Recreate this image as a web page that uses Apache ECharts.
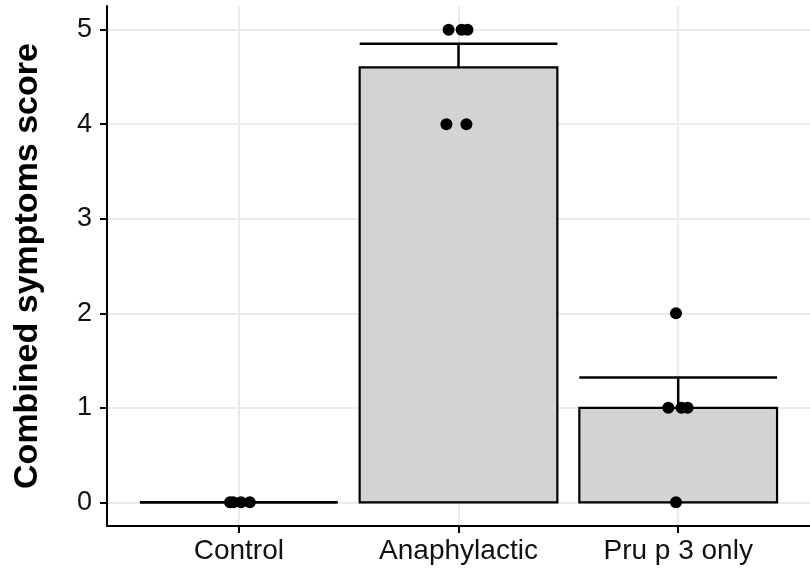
<!DOCTYPE html>
<html>
<head>
<meta charset="utf-8">
<script src="https://cdn.jsdelivr.net/npm/echarts@6/dist/echarts.min.js"></script>
<style>
html,body{margin:0;padding:0;background:#fff;}
#chart{width:810px;height:569px;}
</style>
</head>
<body>
<div id="chart"></div>
<script>
// ---- data ----
var categories = ['Control', 'Anaphylactic', 'Pru p 3 only'];
var categoryPos = [1, 2, 3];
var means = [0, 4.6, 1.0];
var errUpper = [0, 4.85, 1.32];
// individual points: [category position + jitter, score]
var pointsControl = [[0.96, 0], [0.975, 0], [1.01, 0], [1.05, 0]];
var pointsAnaphylactic = [[1.955, 5], [2.014, 5], [2.041, 5], [1.945, 4], [2.036, 4]];
var pointsPru = [[2.99, 2], [2.955, 1], [3.015, 1], [3.043, 1], [2.99, 0]];
var yTicks = [0, 1, 2, 3, 4, 5];
var yTitle = 'Combined symptoms score';

var barHalf = 0.45;
var barData = categoryPos.map(function (p, i) { return [p, means[i]]; });
var errData = categoryPos.map(function (p, i) { return [p, means[i], errUpper[i]]; });
var allPoints = pointsControl.concat(pointsAnaphylactic, pointsPru);

var chart = echarts.init(document.getElementById('chart'));
var FONT = 'Liberation Sans, Arial, sans-serif';
chart.setOption({
  animation: false,
  backgroundColor: '#ffffff',
  grid: { left: 107, right: 0, top: 6, bottom: 43, containLabel: false },
  xAxis: {
    type: 'value', min: 0.4, max: 3.6,
    axisLine: { show: true, onZero: false, lineStyle: { color: '#000', width: 2 } },
    axisTick: { show: true, customValues: categoryPos, length: 7, lineStyle: { color: '#000', width: 2 } },
    axisLabel: {
      customValues: categoryPos, color: '#111', fontFamily: FONT, fontSize: 28, margin: 11,
      formatter: function (v) { return categories[Math.round(v) - 1]; }
    },
    splitLine: { show: true, lineStyle: { color: '#ebebeb', width: 2 } }
  },
  yAxis: {
    type: 'value', min: -0.25, max: 5.25,
    name: yTitle, nameLocation: 'middle', nameRotate: 90, nameGap: 62,
    nameTextStyle: { fontFamily: FONT, fontSize: 34, fontWeight: 'bold', color: '#000' },
    axisLine: { show: true, onZero: false, lineStyle: { color: '#000', width: 2 } },
    axisTick: { show: true, customValues: yTicks, length: 7, lineStyle: { color: '#000', width: 2 } },
    axisLabel: { customValues: yTicks, color: '#111', fontFamily: FONT, fontSize: 27, margin: 15 },
    splitLine: { show: true, lineStyle: { color: '#ebebeb', width: 2 } }
  },
  series: [
    {
      type: 'custom', z: 2,
      data: barData,
      renderItem: function (params, api) {
        var x = api.value(0), y = api.value(1);
        var p0 = api.coord([x - barHalf, 0]);
        var p1 = api.coord([x + barHalf, y]);
        return {
          type: 'rect',
          shape: { x: p0[0], y: p1[1], width: p1[0] - p0[0], height: p0[1] - p1[1] },
          style: { fill: '#d3d3d3', stroke: '#000', lineWidth: 2.2 }
        };
      }
    },
    {
      type: 'custom', z: 3,
      data: errData,
      renderItem: function (params, api) {
        var x = api.value(0), m = api.value(1), u = api.value(2);
        var a = api.coord([x - barHalf, u]);
        var b = api.coord([x + barHalf, u]);
        var c = api.coord([x, m]);
        var d = api.coord([x, u]);
        return {
          type: 'group',
          children: [
            { type: 'line', shape: { x1: a[0], y1: a[1], x2: b[0], y2: b[1] }, style: { stroke: '#000', lineWidth: 2.5 } },
            { type: 'line', shape: { x1: c[0], y1: c[1], x2: d[0], y2: d[1] }, style: { stroke: '#000', lineWidth: 2.5 } }
          ]
        };
      }
    },
    {
      type: 'scatter', z: 4,
      data: allPoints,
      symbol: 'circle', symbolSize: 12,
      itemStyle: { color: '#000', opacity: 1 }
    }
  ]
});
</script>
</body>
</html>
